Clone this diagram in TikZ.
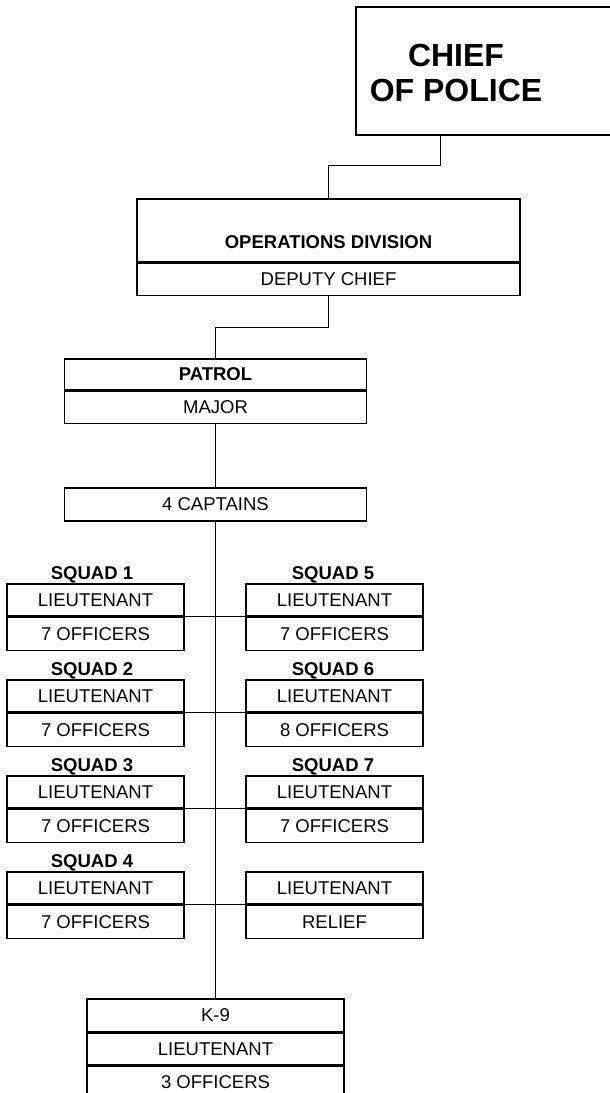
\documentclass[tikz,border=0pt]{standalone}
\usepackage{fontspec}
\setmainfont{Liberation Sans}
\begin{document}
\begin{tikzpicture}[x=1pt, y=-1pt,
    box/.style={draw, line width=1.6pt, inner sep=0pt, anchor=north, font=\fontsize{18.5}{22}\selectfont},
    link/.style={line width=0.8pt},
    squadlbl/.style={anchor=base, inner sep=0pt, font=\fontsize{18.5}{22}\selectfont\bfseries}]
    \useasboundingbox (0,0) rectangle (610,1093);
    \clip (0,0) rectangle (610,1093);
    % chief
    \node[box, anchor=north west, minimum width=300pt, minimum height=128pt] (chief) at (355,6) {};
    \node[align=center, font=\fontsize{32}{35}\selectfont\bfseries] (chieftxt) at (456,73) {CHIEF\\OF POLICE};
    % operations division
    \node[box, minimum width=383pt, minimum height=63pt, text height=36pt, text depth=0pt,
        font=\fontsize{18.5}{22}\selectfont\bfseries] (ops) at (328.5,198) {OPERATIONS DIVISION};
    \node[box, minimum width=383pt, minimum height=32pt] (deputy) at (ops.south) {DEPUTY CHIEF};
    % patrol
    \node[box, minimum width=302pt, minimum height=31pt,
        font=\fontsize{18.5}{22}\selectfont\bfseries] (patrol) at (215.5,358) {PATROL};
    \node[box, minimum width=302pt, minimum height=32pt] (major) at (patrol.south) {MAJOR};
    \node[box, minimum width=302pt, minimum height=33pt] (captains) at (215.5,487) {4 CAPTAINS};
    % squads
    \foreach \n/\off [count=\i from 0] in {1/7,2/7,3/7,4/7} {
        \node[box, minimum width=177pt, minimum height=32pt] (lt\n) at (95.5,{583+96*\i}) {LIEUTENANT};
        \node[box, minimum width=177pt, minimum height=33pt] (off\n) at (lt\n.south) {\off\ OFFICERS};
        \node[squadlbl] (sq\n) at (92,{579+96*\i}) {SQUAD \n};
    }
    \foreach \n/\off [count=\i from 0] in {5/7,6/8,7/7} {
        \node[box, minimum width=177pt, minimum height=32pt] (lt\n) at (334.5,{583+96*\i}) {LIEUTENANT};
        \node[box, minimum width=177pt, minimum height=33pt] (off\n) at (lt\n.south) {\off\ OFFICERS};
        \node[squadlbl] (sq\n) at (333,{579+96*\i}) {SQUAD \n};
    }
    \node[box, minimum width=177pt, minimum height=32pt] (ltr) at (334.5,871) {LIEUTENANT};
    \node[box, minimum width=177pt, minimum height=33pt] (relief) at (ltr.south) {RELIEF};
    % k-9
    \node[box, minimum width=257pt, minimum height=33pt] (k9) at (215.5,998) {K-9};
    \node[box, minimum width=257pt, minimum height=31pt] (k9lt) at (k9.south) {LIEUTENANT};
    \node[box, minimum width=257pt, minimum height=32pt] (k9off) at (k9lt.south) {3 OFFICERS};
    % connectors
    \coordinate (chieftap) at (440,134);
    \draw[link] (chieftap) -- ++(0,31) -| (ops.north);
    \draw[link] (deputy.south) -- ++(0,31) -| (patrol.north);
    \draw[link] (major.south) -- (captains.north);
    \draw[link] (captains.south) -- (k9.north);
    \foreach \a/\b in {1/5,2/6,3/7,4/r}
        \draw[link] (lt\a.south east) -- (lt\b.south west);
\end{tikzpicture}
\end{document}
